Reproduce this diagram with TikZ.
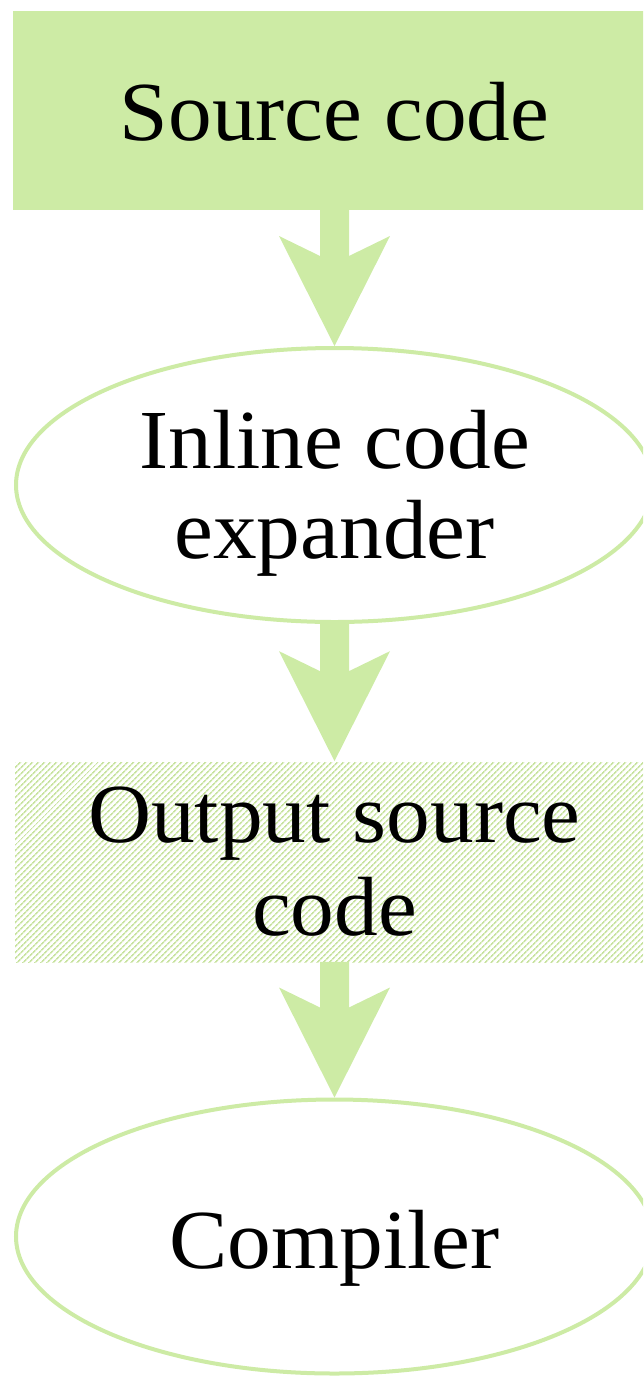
\documentclass[tikz,border=0pt]{standalone}
\usepackage{fontspec}
\setmainfont{Liberation Serif}[FakeStretch=1.04]
\usetikzlibrary{shapes.geometric,calc,patterns.meta}

\definecolor{leaf}{HTML}{CDEBA5}
\definecolor{leafhatch}{HTML}{C8E3A0}

\tikzset{
  lbl/.style={font=\fontsize{84}{91}\selectfont, inner sep=0pt, anchor=base, text=black},
  solidbox/.style={rectangle, fill=leaf, draw=none, inner sep=0pt,
    minimum width=643pt, minimum height=199pt},
  hatchbox/.style={rectangle, draw=none, inner sep=0pt,
    pattern={Lines[angle=45, distance=4pt, line width=1.7pt]}, pattern color=leafhatch,
    minimum width=639pt, minimum height=200pt},
  oval/.style={ellipse, draw=leaf, line width=4pt, fill=white, inner sep=0pt,
    minimum width=637pt, minimum height=274pt},
}

% wide block arrow with a barbed head, from the bottom of #1 to the top of #2
\newcommand\flowarrow[2]{%
  \fill[leaf] ($(#1.south)+(-14.5,1)$) -- ($(#2.north)+(-14.5,90)$)
    -- ($(#2.north)+(-55.5,110)$) -- (#2.north)
    -- ($(#2.north)+(55.5,110)$) -- ($(#2.north)+(14.5,90)$)
    -- ($(#1.south)+(14.5,1)$) -- cycle;}

\begin{document}
\begin{tikzpicture}[x=1pt,y=1pt]
  \useasboundingbox (0,0) rectangle (643,-1377);
  \clip (0,0) rectangle (643,-1377);

  % stages of the pipeline
  \node[solidbox] (src)  at (334.5,-110.5) {};
  \node[oval]     (inl)  at (334.5,-485)   {};
  \node[hatchbox] (out)  at (334.5,-862)   {};
  \node[oval]     (comp) at (334.5,-1236.5) {};

  % labels, placed on their baselines
  \node[lbl] (src-a)  at ($(src.center)+(0,-29.5)$)  {Source code};
  \node[lbl] (inl-a)  at ($(inl.center)+(0,17)$)     {Inline code};
  \node[lbl] (inl-b)  at ($(inl.center)+(0,-73)$)    {expander};
  \node[lbl] (out-a)  at ($(out.center)+(0,20)$)     {Output source};
  \node[lbl] (out-b)  at ($(out.center)+(0,-73)$)    {code};
  \node[lbl] (comp-a) at ($(comp.center)+(0,-31.5)$) {Compiler};

  % flow between the stages
  \flowarrow{src}{inl}
  \flowarrow{inl}{out}
  \flowarrow{out}{comp}
\end{tikzpicture}
\end{document}
